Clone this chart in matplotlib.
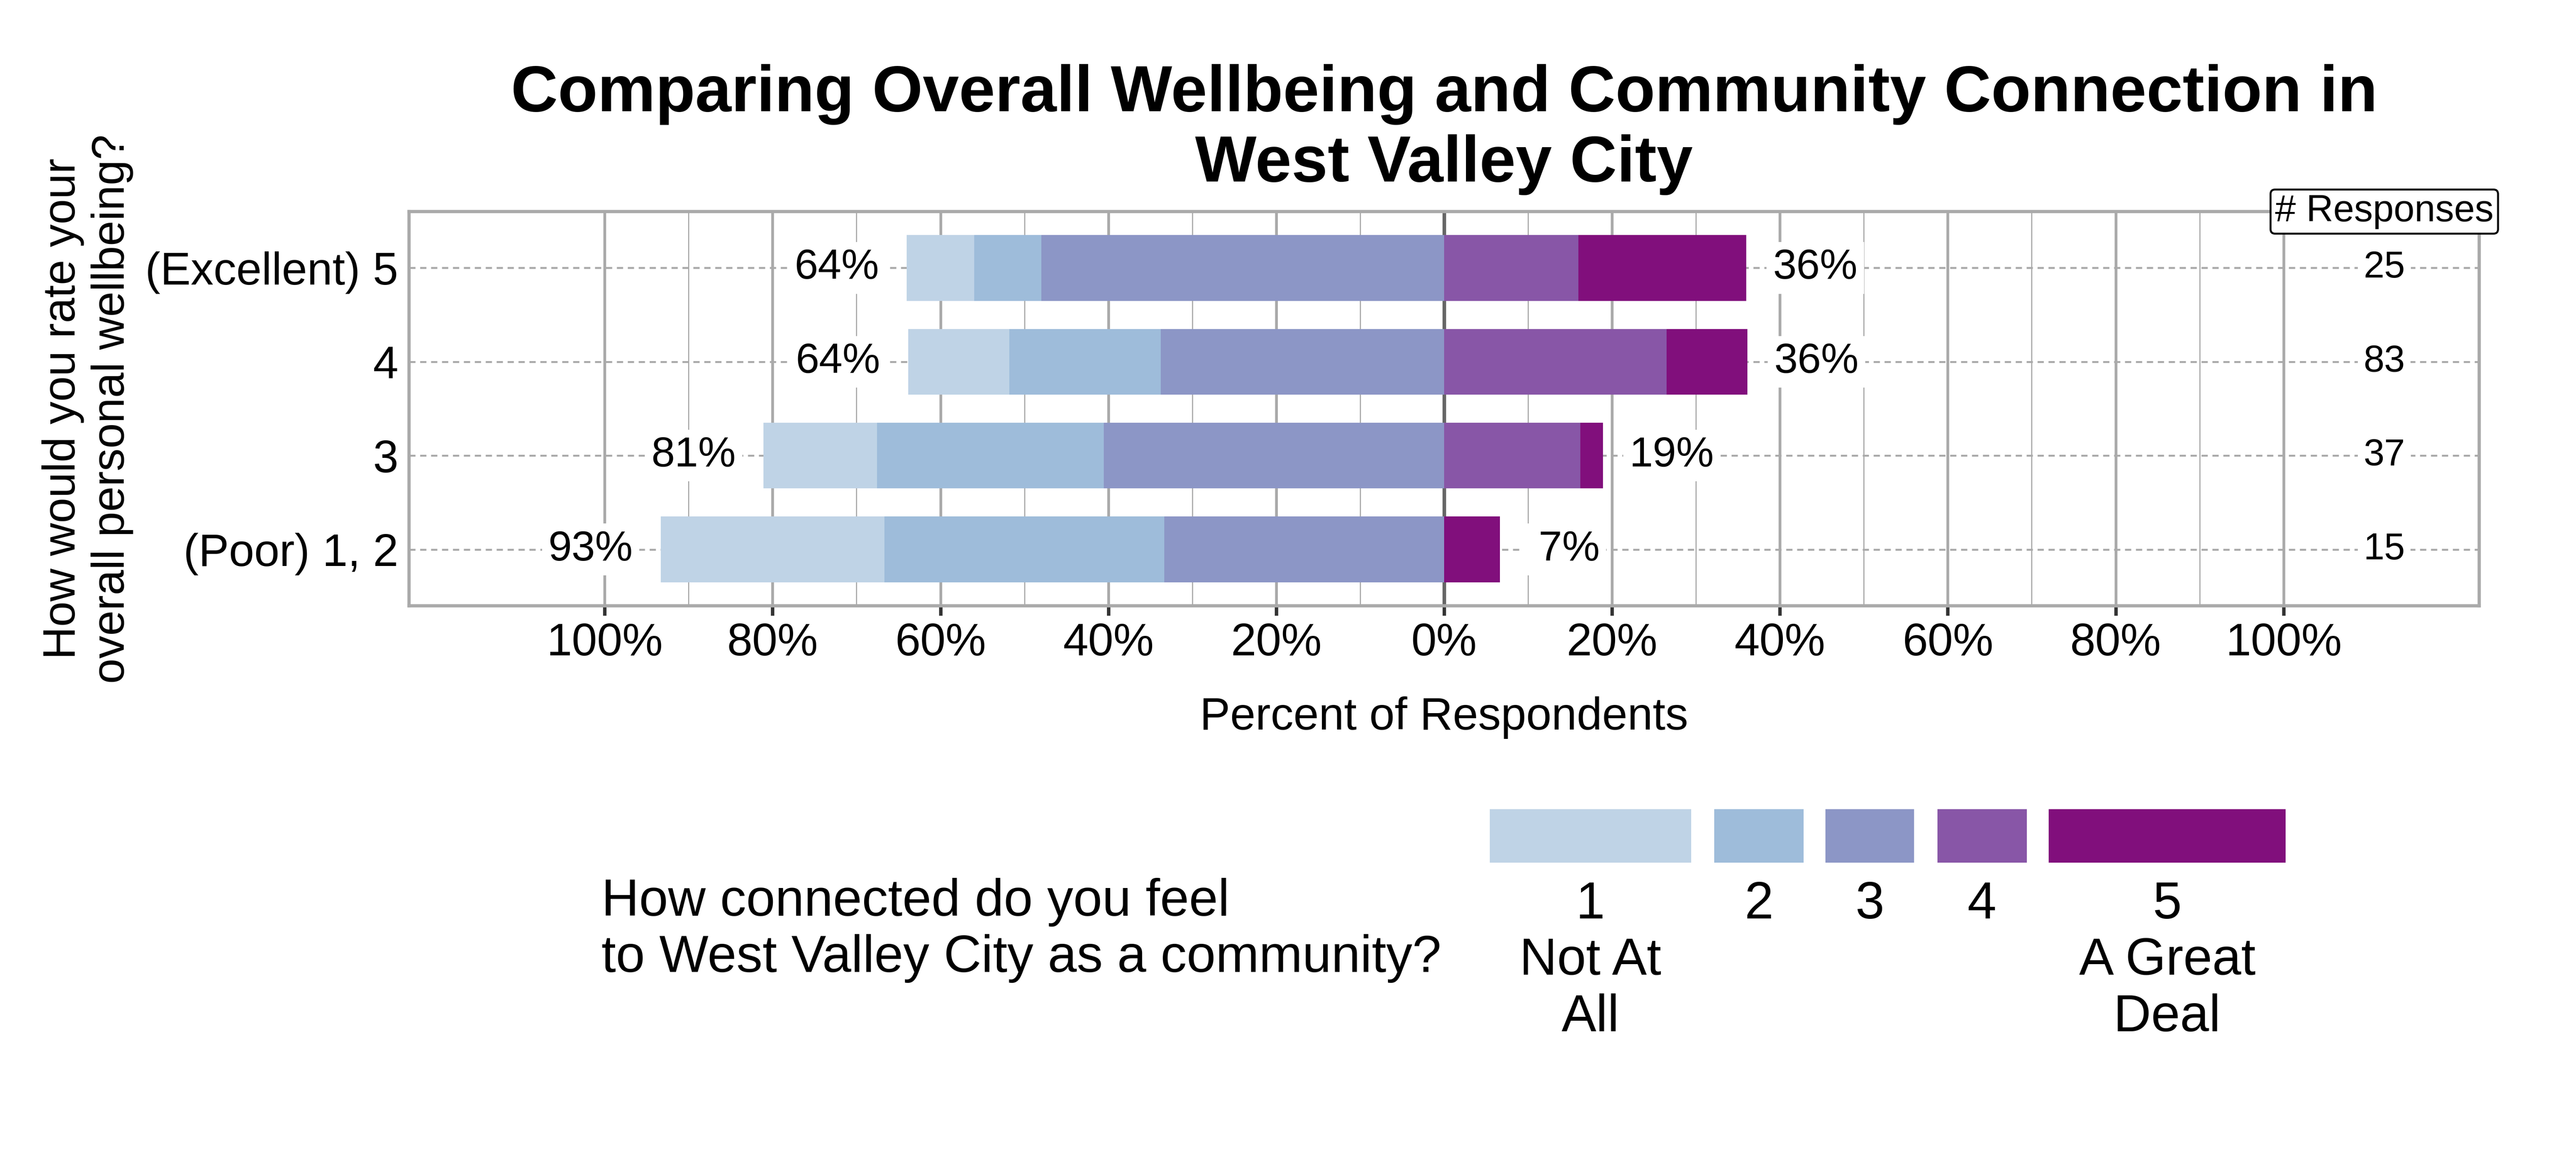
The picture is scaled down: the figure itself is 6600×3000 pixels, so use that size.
import numpy as np
import matplotlib.pyplot as plt
from matplotlib.patches import Rectangle
from matplotlib.transforms import blended_transform_factory

plt.rcParams['font.family'] = ['Liberation Sans', 'DejaVu Sans']

TITLE = 'Comparing Overall Wellbeing and Community Connection in\nWest Valley City'
Y_LABEL = 'How would you rate your\noverall personal wellbeing?'
LEGEND_TITLE = 'How connected do you feel\nto West Valley City as a community?'

# rows top -> bottom
rows = ['(Excellent) 5', '4', '3', '(Poor) 1, 2']
level_names = ['1\nNot At\nAll', '2', '3', '4', '5\nA Great\nDeal']

# number of respondents per answer of the "connected" question
counts_1 = [2, 10, 5, 4]
counts_2 = [2, 15, 10, 5]
counts_3 = [12, 28, 15, 5]
counts_4 = [4, 22, 6, 0]
counts_5 = [5, 8, 1, 1]

colors = ['#bfd3e6', '#9ebcda', '#8c96c6', '#8856a7', '#810f7c']

counts = np.array([counts_1, counts_2, counts_3, counts_4, counts_5], dtype=float)
n_resp = counts.sum(axis=0)
pct = counts / n_resp * 100
y = np.arange(len(rows))[::-1]

fig = plt.figure(figsize=(11, 5), dpi=600)
ax = fig.add_axes([0.1588, 0.4827, 0.8036, 0.3366])
ax.set_axisbelow(True)

BAR_H = 0.7
left_edge = np.zeros(len(rows))
for k in [2, 1, 0]:
    ax.barh(y, -pct[k], left=-left_edge, height=BAR_H, color=colors[k], lw=0)
    left_edge += pct[k]
right_edge = np.zeros(len(rows))
for k in [3, 4]:
    ax.barh(y, pct[k], left=right_edge, height=BAR_H, color=colors[k], lw=0)
    right_edge += pct[k]

label_box = dict(boxstyle='square,pad=0.15', fc='white', ec='none')
for yi, l, r, n in zip(y, left_edge, right_edge, n_resp):
    ax.annotate(f'{l:.0f}%', (-l, yi), xytext=(-8.5, 0), textcoords='offset points',
                ha='right', va='center', fontsize=13, bbox=label_box)
    ax.annotate(f'{r:2.0f}%', (r, yi), xytext=(8.2, 0), textcoords='offset points',
                ha='left', va='center', fontsize=13, bbox=label_box)
    ax.text(112, yi, f'{n:.0f}', ha='center', va='center', fontsize=11.5, bbox=label_box)

trans = blended_transform_factory(ax.transData, ax.transAxes)
ax.text(112, 1.0, '# Responses', transform=trans, ha='center', va='center', fontsize=11.5,
        bbox=dict(boxstyle='round,pad=0.12', fc='white', ec='black', lw=0.6))

ax.axvline(0, color='#666666', lw=1.1, zorder=0.6)

major = np.arange(-100, 101, 20)
ax.set_xticks(major)
ax.set_xticklabels([f'{abs(v)}%' for v in major])
ax.set_xticks(np.arange(-100, 101, 10), minor=True)
ax.set_yticks(y)
ax.set_yticklabels(rows)
ax.set_xlim(-123.3, 123.3)
ax.set_ylim(-0.6, 3.6)

ax.grid(which='major', axis='x', color='#aaaaaa', lw=0.85)
ax.grid(which='minor', axis='x', color='#aaaaaa', lw=0.35)
ax.grid(which='major', axis='y', color='#aaaaaa', lw=0.6, linestyle=(0, (3.2, 2.4)))

ax.tick_params(axis='x', which='major', length=3, width=1.05, color='#333333', labelsize=14, pad=2)
ax.tick_params(axis='x', which='minor', length=0)
ax.tick_params(axis='y', length=0, labelsize=14, pad=3.3)
for s in ax.spines.values():
    s.set_color('#aaaaaa')
    s.set_linewidth(1.0)

ax.set_title(TITLE, fontsize=20, fontweight='bold', pad=9.2)
ax.set_xlabel('Percent of Respondents', fontsize=14, labelpad=9.8)
ax.set_ylabel(Y_LABEL, fontsize=14, labelpad=3.6)

# legend
fig.text(0.2335, 0.2505, LEGEND_TITLE, ha='left', va='top', fontsize=16)
swatch_left = [0.5783, 0.6655, 0.7086, 0.7521, 0.7953]
swatch_width = [0.0782, 0.0347, 0.0345, 0.0347, 0.0920]
for x0, w, c, name in zip(swatch_left, swatch_width, colors, level_names):
    fig.add_artist(Rectangle((x0, 0.2633), w, 0.0457, transform=fig.transFigure, color=c, lw=0))
    fig.text(x0 + w / 2, 0.248, name, ha='center', va='top', fontsize=16,
             multialignment='center')

fig.savefig('out.png', dpi=600)
